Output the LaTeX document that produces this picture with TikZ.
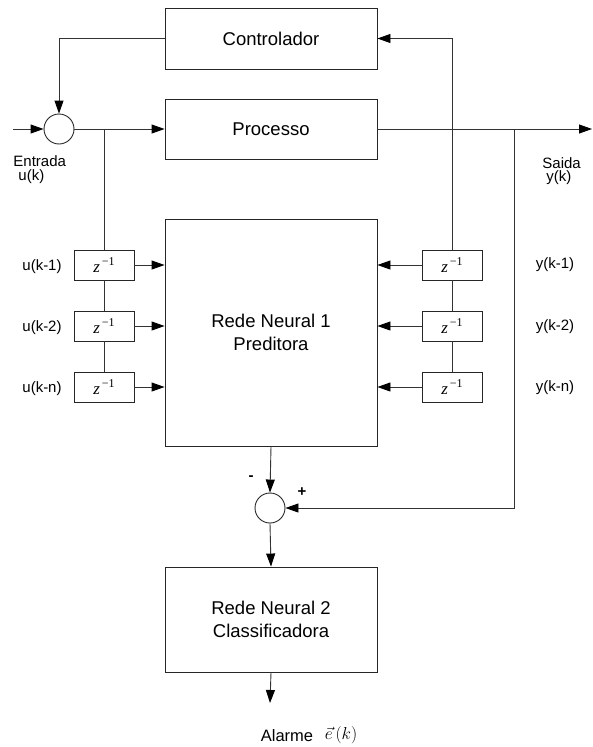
\documentclass[tikz,border=0pt]{standalone}
\usepackage{fontspec}
\setmainfont{Liberation Sans}
\newfontfamily\zfont{Liberation Serif}
\newcommand{\zinv}{{\zfont\fontsize{17}{18}\selectfont\itshape z}\raisebox{7pt}{\zfont\fontsize{12}{13}\selectfont\,−1}}
\usetikzlibrary{arrows.meta}
\begin{document}
\begin{tikzpicture}[x=1pt,y=-1pt,
  line width=0.9pt, draw=black!80,
  blk/.style={draw=black!85, minimum width=212pt, inner sep=0pt, align=center, font=\fontsize{18.5}{23}\selectfont},
  dly/.style={draw=black!85, minimum width=60pt, minimum height=30pt, inner sep=0pt},
  sumj/.style={draw=black!85, circle, minimum size=30pt, inner sep=0pt},
  arr/.style={-{Triangle[length=13pt,width=9pt,color=black]}},
  lbl/.style={font=\fontsize{15}{17}\selectfont, inner sep=0pt},
  big/.style={font=\fontsize{16.5}{18}\selectfont, inner sep=0pt}]
\useasboundingbox (0,0) rectangle (592,747);
% blocks
\node[blk, minimum height=61pt] (ctrl) at (271,38.5) {Controlador};
\node[blk, minimum height=60pt] (proc) at (271,129) {Processo};
\node[blk, minimum height=227pt] (nn) at (271,332.5) {Rede Neural 1\\Preditora};
\node[blk, minimum height=105pt] (nn2) at (271,619.5) {Rede Neural 2\\Classificadora};
\node[sumj] (s1) at (59,129) {};
\node[sumj] (s2) at (270,508) {};
% delay blocks
\node[dly] (d1) at (104,265) {\zinv};
\node[dly] (d2) at (104,326) {\zinv};
\node[dly] (d3) at (104,387) {\zinv};
\node[dly] (e1) at (452,265) {\zinv};
\node[dly] (e2) at (452,326) {\zinv};
\node[dly] (e3) at (452,387) {\zinv};
% coordinates
\coordinate (in) at (13,129);
\coordinate (out) at (592,129);
\coordinate (b1) at (104,129);
\coordinate (b3) at (514,129);
\coordinate (al) at (270,703);
% connectors
\draw[arr] (in) -- (s1.west);
\draw[arr] (ctrl.west) -| (s1.north);
\draw[arr] (s1.east) -- (proc.west);
\draw (b1) -- (d1.north);
\draw (d1.south) -- (d2.north);
\draw (d2.south) -- (d3.north);
\draw[arr] (d1.east) -- (nn.west |- d1.east);
\draw[arr] (d2.east) -- (nn.west |- d2.east);
\draw[arr] (d3.east) -- (nn.west |- d3.east);
\draw[arr] (proc.east) -- (out);
\draw[arr] (e1.north) |- (ctrl.east);
\draw (e1.south) -- (e2.north);
\draw (e2.south) -- (e3.north);
\draw[arr] (e1.west) -- (nn.east |- e1.west);
\draw[arr] (e2.west) -- (nn.east |- e2.west);
\draw[arr] (e3.west) -- (nn.east |- e3.west);
\draw[arr] (b3) |- (s2.east);
\draw[arr] (nn.south) -- (s2.north);
\draw[arr] (s2.south) -- (nn2.north);
\draw[arr] (nn2.south) -- (al);
% labels
\node[lbl, anchor=west] (ent) at (13,161) {Entrada};
\node[lbl, anchor=west] (uk) at (18,177) {u(k)};
\node[lbl, anchor=west] (sai) at (542,163) {Saida};
\node[lbl, anchor=west] (yk) at (546,178) {y(k)};
\node[lbl] (u1) at (42,267) {u(k-1)};
\node[lbl] (u2) at (42,328) {u(k-2)};
\node[lbl] (un) at (42,389) {u(k-n)};
\node[lbl] (y1) at (555,265) {y(k-1)};
\node[lbl] (y2) at (555,327) {y(k-2)};
\node[lbl] (yn) at (555,388) {y(k-n)};
\node[lbl, font=\bfseries\fontsize{15}{16}\selectfont] (minus) at (251,478) {-};
\node[lbl, font=\bfseries\fontsize{15}{16}\selectfont] (plus) at (302,492) {+};
\node[big] (alarme) at (287,736) {Alarme};
\node[big] (ek) at (341,735) {$\vec{e}\,(k)$};
\end{tikzpicture}
\end{document}
